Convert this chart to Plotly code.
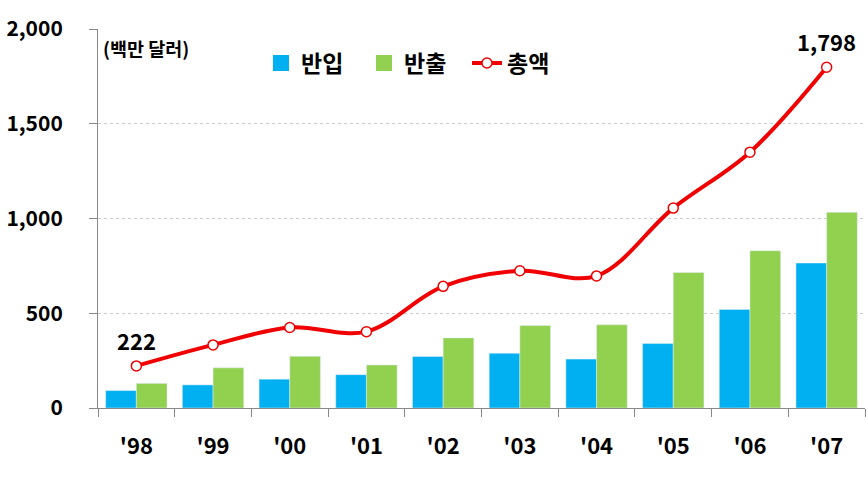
import plotly.graph_objects as go

years = ["'98", "'99", "'00", "'01", "'02", "'03", "'04", "'05", "'06", "'07"]
imports = [92, 122, 152, 176, 272, 289, 258, 340, 520, 765]
exports = [130, 212, 273, 227, 370, 435, 439, 715, 830, 1033]
totals = [222, 333, 425, 403, 642, 724, 697, 1055, 1350, 1798]
y_ticks = [0, 500, 1000, 1500, 2000]
y_tick_text = ["0", "500", "1,000", "1,500", "2,000"]
labeled_points = [0, len(totals) - 1]

FONT = "Noto Sans CJK KR"
BLUE = "#00B0F0"
GREEN = "#92D050"
RED = "#F00000"

fig = go.Figure()
fig.add_trace(go.Bar(x=years, y=imports, name="반입", marker_color=BLUE, showlegend=False))
fig.add_trace(go.Bar(x=years, y=exports, name="반출", marker_color=GREEN, showlegend=False))
fig.add_trace(go.Scatter(
    x=years, y=totals, name="총액", mode="lines+markers", showlegend=False,
    line=dict(color=RED, width=4, shape="spline", smoothing=1.0),
    marker=dict(symbol="circle", size=10, color="white", line=dict(color=RED, width=1.5)),
    cliponaxis=False,
))
# legend entries
fig.add_trace(go.Scatter(x=[None], y=[None], mode="markers", name="<b>반입</b>",
                         marker=dict(symbol="square", size=18, color=BLUE)))
fig.add_trace(go.Scatter(x=[None], y=[None], mode="markers", name="<b>반출</b>",
                         marker=dict(symbol="square", size=18, color=GREEN)))
fig.add_trace(go.Scatter(x=[None], y=[None], mode="lines+markers", name="<b>총액</b>",
                         line=dict(color=RED, width=4),
                         marker=dict(symbol="circle", size=10, color="white", line=dict(color=RED, width=1.5))))

annotations = [dict(text="<b>(백만 달러)</b>", x=0.004, y=0.99, xref="paper", yref="paper",
                    xanchor="left", yanchor="top", showarrow=False,
                    font=dict(size=18.5, family=FONT, color="black"))]
for i in labeled_points:
    annotations.append(dict(text=f"<b>{totals[i]:,}</b>", x=years[i], y=totals[i],
                            xref="x", yref="y", showarrow=False, yshift=26,
                            xanchor="center", yanchor="middle",
                            font=dict(size=22, family=FONT, color="black")))

fig.update_layout(
    width=866, height=477,
    margin=dict(l=98, r=1, t=29, b=69),
    plot_bgcolor="white", paper_bgcolor="white",
    barmode="group", bargap=0.2, bargroupgap=0,
    font=dict(family=FONT, color="black"),
    showlegend=True,
    legend=dict(orientation="h", x=0.2125, y=0.967, xanchor="left", yanchor="top",
                font=dict(size=23, family=FONT, color="black"),
                bgcolor="rgba(0,0,0,0)", itemwidth=30, traceorder="normal",
                entrywidth=58, entrywidthmode="pixels"),
    annotations=annotations,
)
fig.update_xaxes(
    type="category", range=[-0.5, len(years) - 0.5],
    tickson="boundaries", ticks="outside", ticklen=8, tickcolor="#888888",
    showline=True, linecolor="#888888", linewidth=1, automargin=False,
    tickfont=dict(size=22, family=FONT, color="black"), ticklabelstandoff=19,
    tickvals=years, ticktext=[f"<b>{y}</b>" for y in years],
)
fig.update_yaxes(
    range=[0, 2000], tickvals=y_ticks, ticktext=[f"<b>{t}</b>" for t in y_tick_text],
    ticks="outside", ticklen=8, tickcolor="#888888", automargin=False,
    showline=True, linecolor="#888888", linewidth=1,
    showgrid=True, gridcolor="#CCCCCC", griddash="dot", gridwidth=1,
    tickfont=dict(size=21, family=FONT, color="black"), ticklabelstandoff=22,
    zeroline=False,
)

fig.write_html(
    "out.html",
    config={"displayModeBar": False},
    post_script="document.body.style.margin='0';document.body.style.overflow='hidden';",
)
